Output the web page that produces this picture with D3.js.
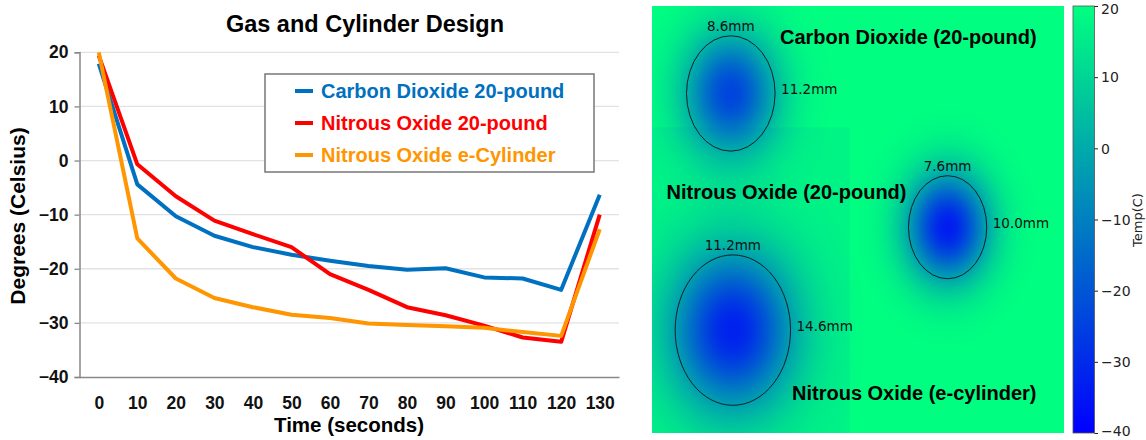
<!DOCTYPE html>
<html lang="en">
<head>
  <meta charset="UTF-8">
  <title>Gas and Cylinder Design</title>
  <script src="https://cdn.jsdelivr.net/npm/d3@7/dist/d3.min.js"></script>
  <style>
    body { margin: 0; background: #fff; }
    text { font-family: "Liberation Sans", Arial, sans-serif; }
    text.mono { font-family: "DejaVu Sans", sans-serif; }
  </style>
</head>
<body>
  <script>
    // line chart data
    const times = [0, 10, 20, 30, 40, 50, 60, 70, 80, 90, 100, 110, 120, 130];
    const co2Pound = [17.9, -4.4, -10.3, -13.9, -16.0, -17.4, -18.5, -19.5, -20.2, -19.9, -21.6, -21.8, -23.9, -6.3];
    const n2oPound = [19.4, -0.7, -6.6, -11.1, -13.6, -16.0, -21.0, -23.9, -27.1, -28.6, -30.5, -32.7, -33.5, -10.0];
    const n2oECyl = [20.0, -14.4, -21.8, -25.4, -27.1, -28.5, -29.1, -30.1, -30.4, -30.6, -30.9, -31.7, -32.4, -12.7];
    const seriesNames = ['Carbon Dioxide 20-pound', 'Nitrous Oxide 20-pound', 'Nitrous Oxide e-Cylinder'];
    const yTicks = [20, 10, 0, -10, -20, -30, -40];

    // heat map data (positions in mm inside the imaged area)
    const cylNames = ['Carbon Dioxide (20-pound)', 'Nitrous Oxide (20-pound)', 'Nitrous Oxide (e-cylinder)'];
    const cylWidthMm = [8.6, 7.6, 11.2];
    const cylHeightMm = [11.2, 10.0, 14.6];
    const cylCenterXMm = [7.65, 28.7, 7.85];
    const cylCenterYMm = [8.5, 21.5, 31.5];
    const cbTicks = [20, 10, 0, -10, -20, -30, -40];

    const series = [co2Pound, n2oPound, n2oECyl];
    const colors = ['#0070C0', '#FF0000', '#FF9500'];

    const svg = d3.select('body').append('svg')
      .attr('width', 1146).attr('height', 440);
    const defs = svg.append('defs');

    // ---------- left: line chart ----------
    const x = d3.scalePoint().domain(times).range([79.5, 619]).padding(0.5);
    const y = d3.scaleLinear().domain([-40, 20]).range([377, 52.3]);

    const chart = svg.append('g');

    chart.append('g').selectAll('line').data(yTicks.filter(d => d > -40)).join('line')
      .attr('x1', 79.5).attr('x2', 619)
      .attr('y1', d => y(d)).attr('y2', d => y(d))
      .attr('stroke', '#e2e2e2').attr('stroke-width', 1.3);

    const yAxis = chart.append('g').attr('transform', 'translate(79.5,0)')
      .call(d3.axisLeft(y).tickValues(yTicks).tickSize(5).tickPadding(6));
    yAxis.select('.domain').attr('stroke', '#888').attr('stroke-width', 1.5);
    yAxis.selectAll('.tick line').attr('stroke', '#888').attr('stroke-width', 1.3);
    yAxis.selectAll('.tick text').attr('font-size', 17.5).attr('font-weight', 'bold').attr('fill', '#111');

    const xAxis = chart.append('g').attr('transform', 'translate(0,377)')
      .call(d3.axisBottom(x).tickSize(0).tickPadding(20));
    xAxis.select('.domain').attr('stroke', '#888').attr('stroke-width', 1.5);
    xAxis.selectAll('.tick text').attr('font-size', 17.5).attr('font-weight', 'bold').attr('fill', '#111');

    const line = d3.line().x((d, i) => x(times[i])).y(d => y(d));
    series.forEach((s, i) => {
      chart.append('path').datum(s)
        .attr('d', line).attr('fill', 'none')
        .attr('stroke', colors[i]).attr('stroke-width', 4)
        .attr('stroke-linejoin', 'round');
    });

    chart.append('text').attr('x', 365).attr('y', 32)
      .attr('text-anchor', 'middle').attr('font-size', 23.5).attr('font-weight', 'bold')
      .text('Gas and Cylinder Design');
    chart.append('text').attr('x', 349).attr('y', 432)
      .attr('text-anchor', 'middle').attr('font-size', 20.5).attr('font-weight', 'bold')
      .text('Time (seconds)');
    chart.append('text').attr('transform', 'translate(25,216) rotate(-90)')
      .attr('text-anchor', 'middle').attr('font-size', 21).attr('font-weight', 'bold')
      .text('Degrees (Celsius)');

    // legend
    const legend = chart.append('g');
    legend.append('rect').attr('x', 265).attr('y', 74).attr('width', 329).attr('height', 98)
      .attr('fill', '#fff').attr('stroke', '#777').attr('stroke-width', 1.5);
    seriesNames.forEach((n, i) => {
      const ly = 91 + i * 32;
      legend.append('line').attr('x1', 295).attr('x2', 313).attr('y1', ly).attr('y2', ly)
        .attr('stroke', colors[i]).attr('stroke-width', 4);
      legend.append('text').attr('x', 321).attr('y', ly + 7)
        .attr('font-size', 20).attr('font-weight', 'bold').attr('fill', colors[i])
        .text(n);
    });

    // ---------- right: heat map ----------
    const color = d3.scaleSequential(d3.interpolateRgb('#0000ff', '#00ff80')).domain([-40, 20]);
    const hx = d3.scaleLinear().domain([0, 40]).range([652, 1064]);
    const hy = d3.scaleLinear().domain([0, 41.5]).range([6, 433]);
    const mm = d3.scaleLinear().domain([0, 1]).range([0, 412 / 40]);
    const minTemps = series.map(s => d3.min(s));

    defs.append('clipPath').attr('id', 'heatclip').append('rect')
      .attr('x', hx(0)).attr('y', hy(0))
      .attr('width', hx(40) - hx(0)).attr('height', hy(41.5) - hy(0));

    const heat = svg.append('g');
    const field = heat.append('g').attr('clip-path', 'url(#heatclip)');
    field.append('rect').attr('x', hx(0)).attr('y', hy(0))
      .attr('width', hx(40) - hx(0)).attr('height', hy(41.5) - hy(0))
      .attr('fill', color(20));
    field.append('rect').attr('x', hx(0)).attr('y', hy(11.8))
      .attr('width', hx(19.2) - hx(0)).attr('height', hy(41.5) - hy(11.8))
      .attr('fill', color(17.5));

    const spread = 2.3, sigma = 1.05;
    const stops = d3.range(0, 1.0001, 0.05);
    cylNames.forEach((n, i) => {
      const g = defs.append('radialGradient').attr('id', 'blob' + i);
      g.selectAll('stop').data(stops).join('stop')
        .attr('offset', d => d)
        .attr('stop-color', color(minTemps[i]))
        .attr('stop-opacity', d => Math.exp(-Math.pow(d * spread / sigma, 2)));
      field.append('ellipse')
        .attr('cx', hx(cylCenterXMm[i])).attr('cy', hy(cylCenterYMm[i]))
        .attr('rx', spread * mm(cylWidthMm[i]) / 2).attr('ry', spread * mm(cylHeightMm[i]) / 2)
        .attr('fill', 'url(#blob' + i + ')');
    });

    cylNames.forEach((n, i) => {
      const cx = hx(cylCenterXMm[i]), cy = hy(cylCenterYMm[i]);
      const rx = mm(cylWidthMm[i]) / 2, ry = mm(cylHeightMm[i]) / 2;
      heat.append('ellipse').attr('cx', cx).attr('cy', cy).attr('rx', rx).attr('ry', ry)
        .attr('fill', 'none').attr('stroke', '#111').attr('stroke-width', 0.9);
      heat.append('text').attr('class', 'mono').attr('x', cx).attr('y', cy - ry - 5)
        .attr('text-anchor', 'middle').attr('font-size', 13.5).attr('fill', '#111')
        .text(cylWidthMm[i].toFixed(1) + 'mm');
      heat.append('text').attr('class', 'mono').attr('x', cx + rx + 6).attr('y', cy + 1)
        .attr('font-size', 13.5).attr('fill', '#111')
        .text(cylHeightMm[i].toFixed(1) + 'mm');
    });

    const labelPos = [[780, 44], [666.5, 199], [792, 400]];
    cylNames.forEach((n, i) => {
      heat.append('text').attr('x', labelPos[i][0]).attr('y', labelPos[i][1])
        .attr('font-size', 20).attr('font-weight', 'bold').attr('fill', '#000')
        .text(n);
    });

    // colorbar
    const cb = d3.scaleLinear().domain([-40, 20]).range([433, 6]);
    const lg = defs.append('linearGradient').attr('id', 'cbar')
      .attr('x1', 0).attr('y1', 1).attr('x2', 0).attr('y2', 0);
    lg.selectAll('stop').data(d3.range(0, 1.0001, 0.1)).join('stop')
      .attr('offset', d => d).attr('stop-color', d => color(-40 + d * 60));
    svg.append('rect').attr('x', 1073).attr('y', cb(20)).attr('width', 21.5).attr('height', cb(-40) - cb(20))
      .attr('fill', 'url(#cbar)').attr('stroke', '#555').attr('stroke-width', 0.8);
    const cbAxis = svg.append('g').attr('transform', 'translate(1094.5,0)')
      .call(d3.axisRight(cb).tickValues(cbTicks).tickSize(3.5).tickPadding(3)
        .tickFormat(d => d < 0 ? '\u2212' + Math.abs(d) : d));
    cbAxis.select('.domain').remove();
    cbAxis.selectAll('.tick line').attr('stroke', '#222');
    // end labels nudged so they stay inside the page
    cbAxis.selectAll('.tick text').attr('class', 'mono').attr('font-size', 14)
      .attr('dy', d => d === 20 ? '0.55em' : d === -40 ? '0.2em' : '0.34em').attr('fill', '#222');
    svg.append('text').attr('class', 'mono').attr('transform', 'translate(1142,220) rotate(-90)')
      .attr('text-anchor', 'middle').attr('font-size', 13).attr('fill', '#222')
      .text('Temp(C)');
  </script>
</body>
</html>
